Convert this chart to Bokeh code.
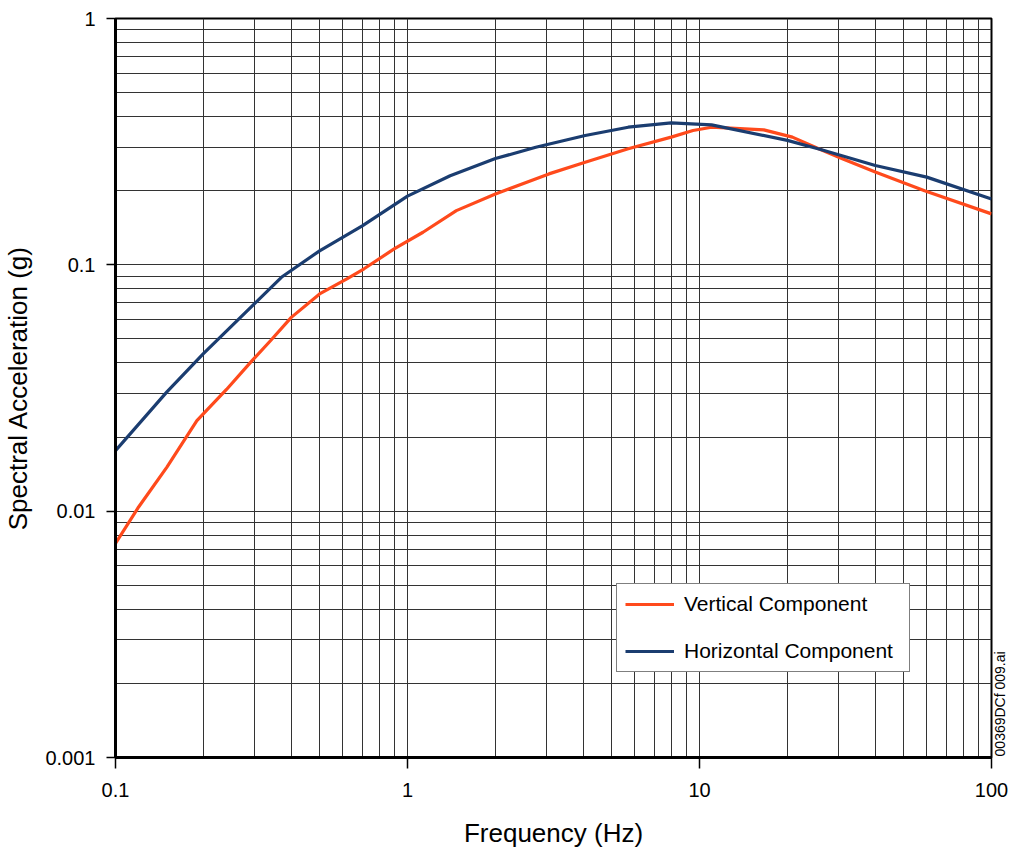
from bokeh.plotting import figure
from bokeh.models import FixedTicker, CustomJSTickFormatter, Legend, LegendItem, LogAxis
from bokeh.embed import file_html
from bokeh.resources import INLINE

# ---- data ----
freq_vertical = [0.1, 0.12, 0.15, 0.19, 0.24, 0.29, 0.34, 0.4, 0.5, 0.62, 0.71, 0.9,
                 1.13, 1.47, 2.0, 3.05, 4.06, 5.7, 8.0, 9.5, 11.0, 16.6, 20.8, 25.6,
                 31.0, 40.0, 59.0, 100.0]
accel_vertical = [0.0074, 0.0104, 0.0151, 0.0233, 0.0312, 0.0402, 0.0493, 0.0612,
                  0.0762, 0.0877, 0.0964, 0.116, 0.1356, 0.166, 0.194, 0.234, 0.261,
                  0.296, 0.330, 0.351, 0.362, 0.353, 0.330, 0.296, 0.269, 0.238,
                  0.200, 0.161]

freq_horizontal = [0.1, 0.15, 0.2, 0.3, 0.37, 0.5, 0.7, 1.0, 1.4, 2.0, 2.75, 4.06,
                   5.7, 8.0, 11.0, 20.0, 26.0, 40.0, 60.0, 100.0]
accel_horizontal = [0.0176, 0.0305, 0.0436, 0.0697, 0.089, 0.114, 0.144, 0.19, 0.23,
                    0.27, 0.30, 0.335, 0.362, 0.377, 0.37, 0.32, 0.294, 0.253, 0.227,
                    0.185]

x_major = [0.1, 1, 10, 100]
x_minor = [0.2, 0.3, 0.4, 0.5, 0.6, 0.7, 0.8, 0.9, 2, 3, 4, 5, 6, 7, 8, 9,
           20, 30, 40, 50, 60, 70, 80, 90]
y_major = [0.001, 0.01, 0.1, 1]
y_minor = [0.002, 0.003, 0.004, 0.005, 0.006, 0.007, 0.008, 0.009,
           0.02, 0.03, 0.04, 0.05, 0.06, 0.07, 0.08, 0.09,
           0.2, 0.3, 0.4, 0.5, 0.6, 0.7, 0.8, 0.9]

series_names = ["Vertical Component", "Horizontal Component"]
x_label = "Frequency (Hz)"
y_label = "Spectral Acceleration (g)"
file_tag = "00369DCf  009.ai"
file_tag_anchor = [0.00101]   # where the file tag starts on the right edge

ORANGE = "#ff4a1c"
NAVY = "#1b3d70"
FONT = "Liberation Sans"

p = figure(width=1019, height=850, x_axis_type="log", y_axis_type="log",
           x_range=(0.1, 100), y_range=(0.001, 1),
           output_backend="svg", toolbar_location=None,
           min_border_left=115, min_border_right=18, min_border_top=18,
           min_border_bottom=93)
p.background_fill_color = "white"
p.border_fill_color = "white"
p.outline_line_color = "black"
p.outline_line_width = 2

p.xaxis.ticker = FixedTicker(ticks=x_major, minor_ticks=x_minor)
p.yaxis.ticker = FixedTicker(ticks=y_major, minor_ticks=y_minor)
p.xaxis.formatter = CustomJSTickFormatter(code="return tick.toString();")
p.yaxis.formatter = CustomJSTickFormatter(code="return tick.toString();")

for ax in (p.xaxis[0], p.yaxis[0]):
    ax.axis_line_color = "black"
    ax.axis_line_width = 3
    ax.major_tick_in = 0
    ax.major_tick_line_color = "black"
    ax.major_tick_line_width = 1.5
    ax.minor_tick_line_color = None
    ax.major_label_text_font = FONT
    ax.major_label_text_font_size = "20px"
    ax.major_label_text_color = "black"
    ax.axis_label_text_font = FONT
    ax.axis_label_text_font_size = "26px"
    ax.axis_label_text_font_style = "normal"
    ax.axis_label_text_color = "black"

p.xaxis.major_tick_out = 11
p.yaxis.major_tick_out = 9
p.xaxis.major_label_standoff = 14
p.yaxis.major_label_standoff = 11
p.xaxis.axis_label = x_label
p.yaxis.axis_label = y_label
p.xaxis.axis_label_standoff = 18
p.yaxis.axis_label_standoff = 9

for g in (p.xgrid[0], p.ygrid[0]):
    g.grid_line_color = "#333333"
    g.grid_line_width = 1
    g.minor_grid_line_color = "#333333"
    g.minor_grid_line_width = 1

r_v = p.line(freq_vertical, accel_vertical, line_color=ORANGE, line_width=3.2)
r_h = p.line(freq_horizontal, accel_horizontal, line_color=NAVY, line_width=3.2)

legend = Legend(items=[LegendItem(label=series_names[0], renderers=[r_v]),
                       LegendItem(label=series_names[1], renderers=[r_h])],
                location=(501, 85), orientation="vertical",
                padding=8, spacing=23, margin=0,
                glyph_width=49, glyph_height=22, label_height=22, label_width=217,
                label_standoff=10,
                label_text_font=FONT, label_text_font_size="21px",
                label_text_color="black",
                border_line_color="black", border_line_width=1.5,
                background_fill_color="white", background_fill_alpha=1)
p.add_layout(legend, "center")

# file tag on the right edge, rotated to read bottom-to-top
tag_axis = LogAxis(ticker=FixedTicker(ticks=file_tag_anchor, minor_ticks=[]),
                   formatter=CustomJSTickFormatter(args=dict(t=file_tag), code="return t;"),
                   axis_line_color=None, major_tick_line_color=None,
                   minor_tick_line_color=None,
                   major_tick_in=0, major_tick_out=0, major_label_standoff=9,
                   major_label_orientation=1.5708,
                   major_label_text_font=FONT, major_label_text_font_size="14px",
                   major_label_text_color="black")
p.add_layout(tag_axis, "right")

open("out.html", "w").write(file_html(p, INLINE))
